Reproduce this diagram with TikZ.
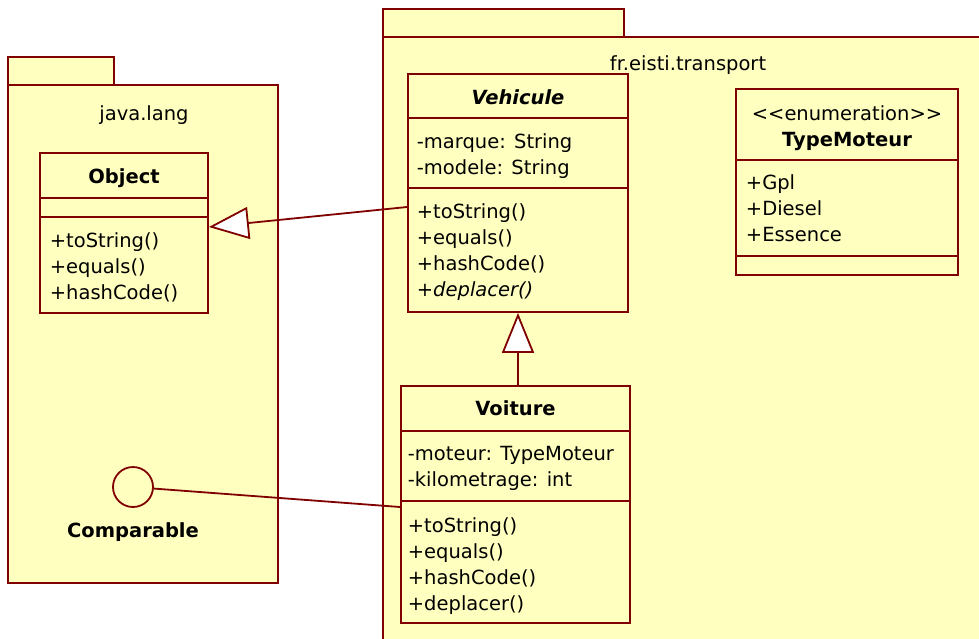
\documentclass[tikz,border=0pt]{standalone}
\usepackage{fontspec}
\setmainfont{DejaVu Sans}
\usetikzlibrary{arrows.meta}
\definecolor{umlred}{RGB}{128,0,0}
\definecolor{umlfill}{RGB}{255,255,192}

\begin{document}
\begin{tikzpicture}[x=1pt, y=-1pt, line width=1.8pt,
    pkg/.style={draw=umlred, fill=umlfill},
    classbox/.style={draw=umlred, fill=umlfill, inner sep=0pt},
    txt/.style={inner sep=0pt, font=\fontsize{19.5}{26}\selectfont},
    members/.style={txt, align=left, anchor=base west},
    title/.style={txt, align=center, anchor=base},
    sep/.style={umlred},
    inherit/.style={umlred, -{Triangle[length=40pt, width=32pt, fill=white]}}]
  \clip (0,0) rectangle (979,638);
  % java.lang
  \draw[pkg] (8,57) rectangle (114,85);
  \draw[pkg] (8,85) rectangle (278,583);
  \node[title] (javalang) at (144,120) {java.lang};
  % fr.eisti.transport
  \draw[pkg] (383,9) rectangle (624,37);
  \draw[pkg] (383,37) rectangle (995,660);
  \node[title] (transport) at (688,70) {fr.eisti.transport};

  % Object (multi-line nodes sit on their last baseline)
  \node[classbox, minimum width=168pt, minimum height=160pt] (obj) at (124,233) {};
  \draw[sep] (obj.west |- 0,198) -- (obj.east |- 0,198);
  \draw[sep] (obj.west |- 0,217) -- (obj.east |- 0,217);
  \node[title] (objname) at (124,183) {\textbf{Object}};
  \node[members] (objops) at (49,299) {+toString()\\+equals()\\+hashCode()};

  % Comparable
  \node[circle, draw=umlred, fill=umlfill, minimum size=40pt, inner sep=0pt] (cmp) at (133,487) {};
  \node[title] (cmpname) at (133,537) {\textbf{Comparable}};

  % Vehicule
  \node[classbox, minimum width=220pt, minimum height=238pt] (veh) at (518,193) {};
  \draw[sep] (veh.west |- 0,118) -- (veh.east |- 0,118);
  \draw[sep] (veh.west |- 0,188) -- (veh.east |- 0,188);
  \node[title] (vehname) at (518,104) {\textbf{\textit{Vehicule}}};
  \node[members] (vehattr) at (416,174) {-marque: String\\-modele: String};
  \node[members] (vehops) at (416,296) {+toString()\\+equals()\\+hashCode()\\\textit{+deplacer()}};

  % TypeMoteur
  \node[classbox, minimum width=222pt, minimum height=186pt] (moteur) at (847,182) {};
  \draw[sep] (moteur.west |- 0,160) -- (moteur.east |- 0,160);
  \draw[sep] (moteur.west |- 0,256) -- (moteur.east |- 0,256);
  \node[title] (motname) at (847,146) {<{}<enumeration>{}>\\\textbf{TypeMoteur}};
  \node[members] (motvals) at (745,241) {+Gpl\\+Diesel\\+Essence};

  % Voiture
  \node[classbox, minimum width=229pt, minimum height=237pt] (voit) at (515.5,504.5) {};
  \draw[sep] (voit.west |- 0,431) -- (voit.east |- 0,431);
  \draw[sep] (voit.west |- 0,501) -- (voit.east |- 0,501);
  \node[title] (voitname) at (515.5,415) {\textbf{Voiture}};
  \node[members] (voitattr) at (407,486) {-moteur: TypeMoteur\\-kilometrage: int};
  \node[members] (voitops) at (407,610) {+toString()\\+equals()\\+hashCode()\\+deplacer()};

  % relations
  \draw[inherit] ([yshift=-14pt]veh.west) -- ([yshift=6pt]obj.east);
  \draw[inherit] (veh.south |- voit.north) -- (veh.south);
  \draw[umlred] (cmp) -- ([yshift=-2.5pt]voit.west);
\end{tikzpicture}
\end{document}
